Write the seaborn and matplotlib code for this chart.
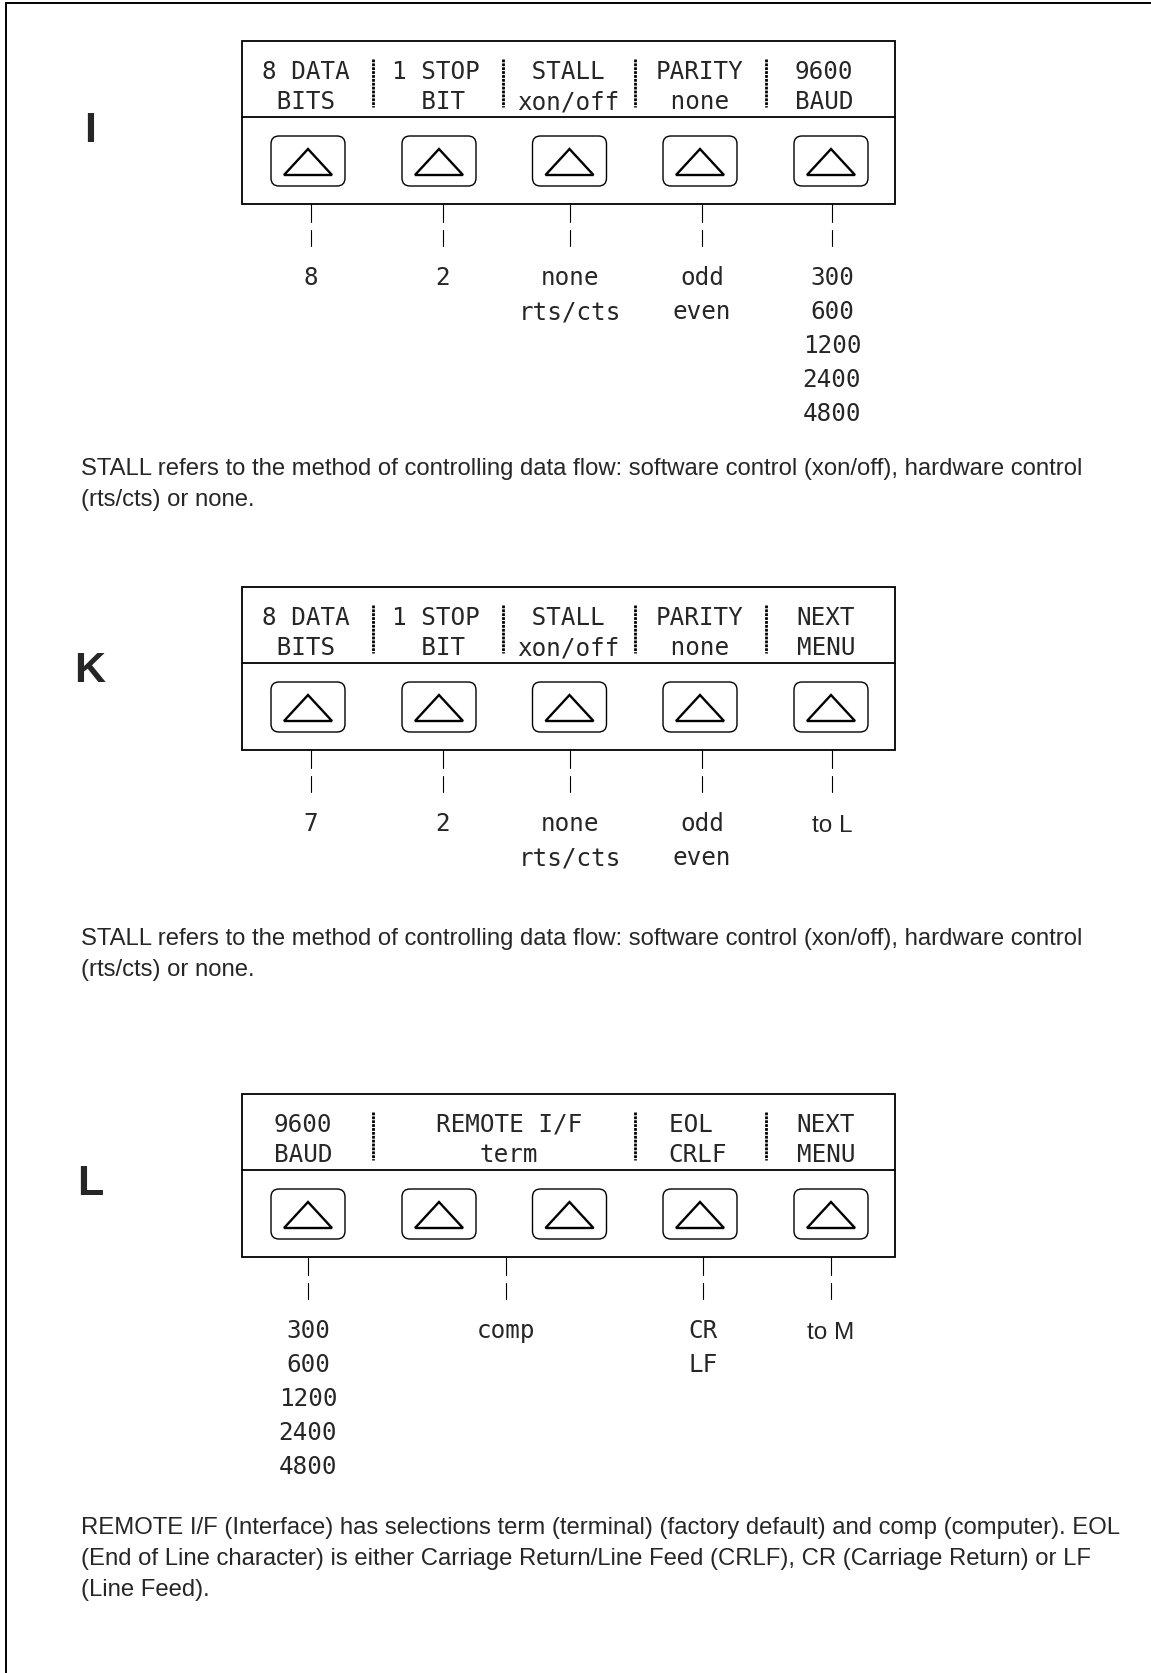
import matplotlib
matplotlib.use("Agg")
import matplotlib.pyplot as plt
from matplotlib.patches import FancyBboxPatch, Polygon, Rectangle
import seaborn as sns

# soft-key menus (top label lines) and the choices each key cycles through
i_labels = [("8 DATA", " BITS "), ("1 STOP", "  BIT "), (" STALL ", "xon/off"), ("PARITY", " none "), ("9600", "BAUD")]
i_values = [["8"], ["2"], ["none", "rts/cts"], ["odd", "even"], ["300", "600", "1200", "2400", "4800"]]

k_labels = [("8 DATA", " BITS "), ("1 STOP", "  BIT "), (" STALL ", "xon/off"), ("PARITY", " none "), ("NEXT", "MENU")]
k_values = [["7"], ["2"], ["none", "rts/cts"], ["odd", "even"], ["to L"]]

l_labels = [("9600", "BAUD"), ("REMOTE I/F", "term"), ("EOL ", "CRLF"), ("NEXT", "MENU")]
l_values = [["300", "600", "1200", "2400", "4800"], ["comp"], ["CR", "LF"], ["to M"]]

stall_note = ["STALL refers to the method of controlling data flow: software control (xon/off), hardware control",
              "(rts/cts) or none."]
remote_note = ["REMOTE I/F (Interface) has selections term (terminal) (factory default) and comp (computer). EOL",
               "(End of Line character) is either Carriage Return/Line Feed (CRLF), CR (Carriage Return) or LF",
               "(Line Feed)."]

# layout in pixels
W, H = 1151, 1674
BOX_L, BOX_R = 242, 895
BUTTON_X = [308, 439, 569.5, 700, 831]
LCD = "DejaVu Sans Mono"
ARIAL = "Liberation Sans"

sns.set_theme(style="white")
plt.rcParams["font.family"] = [ARIAL, "DejaVu Sans"]

fig = plt.figure(figsize=(W / 100, H / 100), dpi=100)
ax = fig.add_axes([0, 0, 1, 1])
ax.set_xlim(0, W)
ax.set_ylim(H, 0)
ax.axis("off")

# outer frame: top and left edge only
ax.plot([6, W], [4, 4], color="black", lw=1.4)
ax.plot([6, 6], [4, H], color="black", lw=1.4)


def panel(letter, letter_base, top, labels, label_x, dividers, values, lead_x, note, note_base):
    ax.text(90, letter_base, letter, fontsize=31, fontweight="bold", family=ARIAL, ha="center", va="baseline")
    ax.add_patch(Rectangle((BOX_L, top), BOX_R - BOX_L, 163, fill=False, ec="black", lw=1.3))
    ax.plot([BOX_L, BOX_R], [top + 76, top + 76], color="black", lw=1.3)
    for x in dividers:
        ax.plot([x, x], [top + 18, top + 66], color="black", lw=2.0, dashes=(1.0, 0.4))
    for x, (a, b) in zip(label_x, labels):
        ax.text(x, top + 37, a, fontsize=17.5, family=LCD, ha="center", va="baseline")
        ax.text(x, top + 67, b, fontsize=17.5, family=LCD, ha="center", va="baseline")
    for cx in BUTTON_X:
        ax.add_patch(FancyBboxPatch((cx - 37, top + 95), 74, 50, boxstyle="round,pad=0,rounding_size=8",
                                    fill=False, ec="black", lw=1.0))
        ax.add_patch(Polygon([(cx - 24, top + 134), (cx, top + 108), (cx + 24, top + 134)], closed=True,
                             fill=False, ec="black", lw=1.7))
    for x, opts in zip(lead_x, values):
        ax.plot([x, x], [top + 163, top + 181], color="black", lw=0.8)
        ax.plot([x, x], [top + 189, top + 205], color="black", lw=0.8)
        for j, v in enumerate(opts):
            if v.startswith("to "):
                ax.text(x, top + 244 + 34 * j, v, fontsize=17.5, family=ARIAL, ha="center", va="baseline")
            else:
                ax.text(x, top + 243 + 34 * j, v, fontsize=17.5, family=LCD, ha="center", va="baseline")
    for j, line in enumerate(note):
        ax.text(81, note_base + 31 * j, line, fontsize=17.2, family=ARIAL, ha="left", va="baseline")


panel("I", 142, 42, i_labels, [306, 436, 568, 700, 824], [373, 503, 635, 766],
      i_values, [311, 443, 570, 702, 832], stall_note, 475)
panel("K", 682, 588, k_labels, [306, 436, 568, 700, 826], [373, 503, 635, 766],
      k_values, [311, 443, 570, 702, 832], stall_note, 945)
panel("L", 1195, 1095, l_labels, [303, 509, 698, 826], [373, 635, 766],
      l_values, [308, 506, 703, 831], remote_note, 1534)

fig.savefig("out.png", dpi=100)
